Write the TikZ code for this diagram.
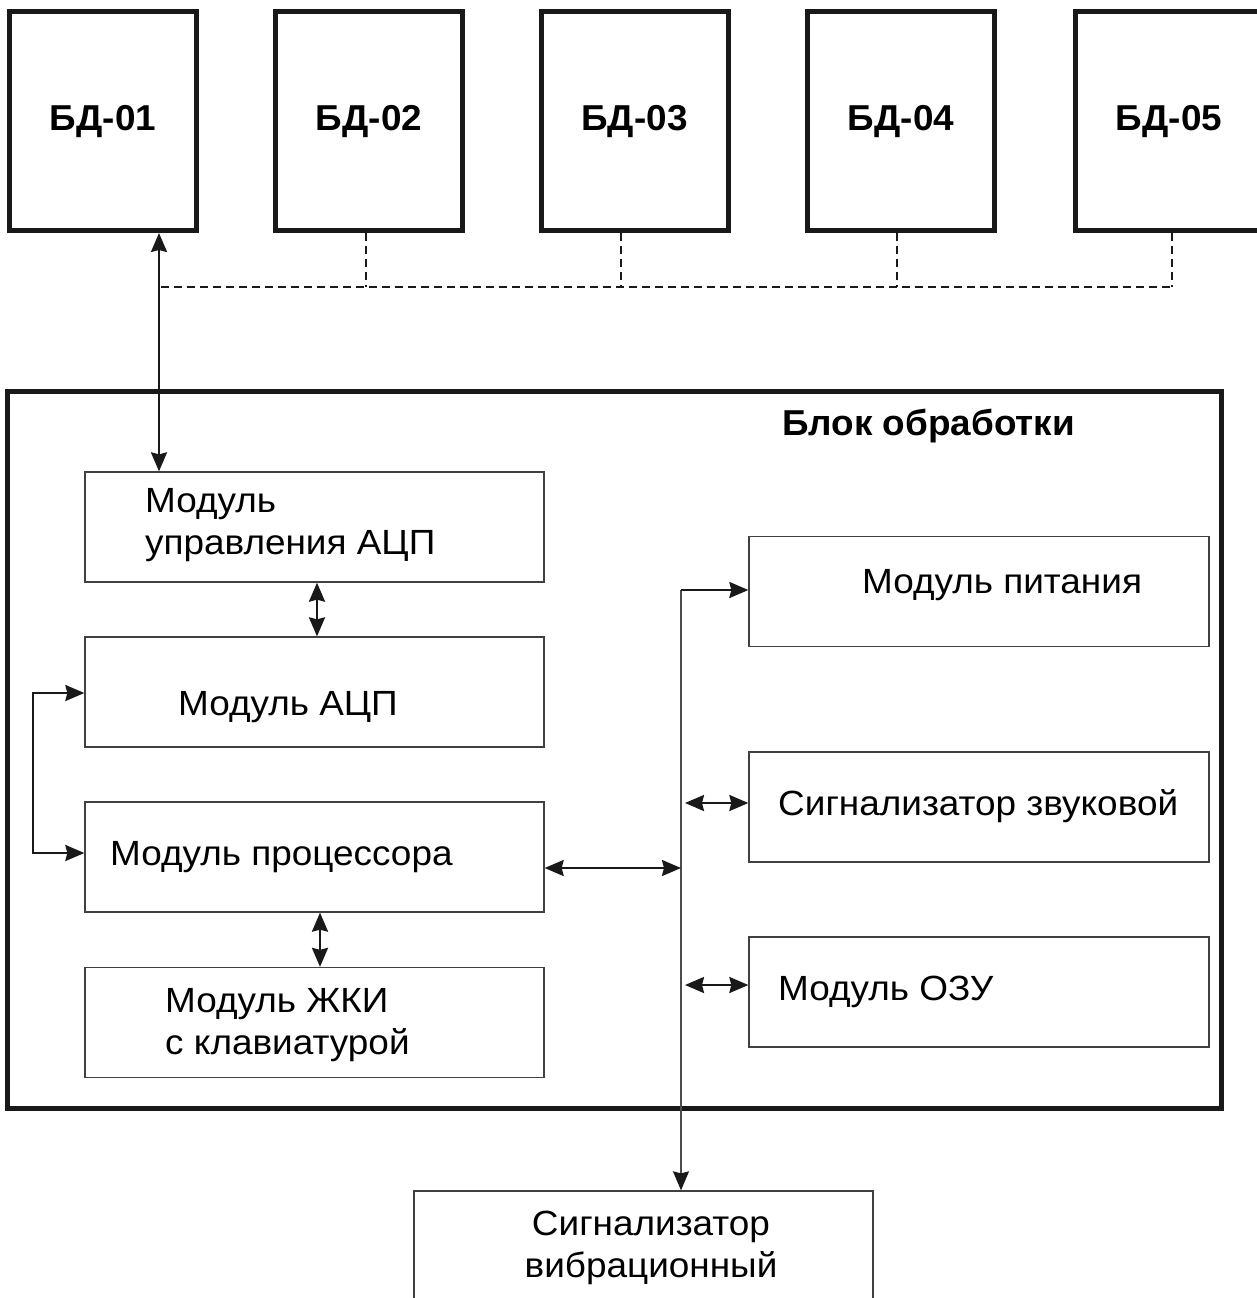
\documentclass[tikz,border=0pt]{standalone}
\usepackage{fontspec}
\setmainfont{Liberation Sans}
\newfontfamily\modfont[FakeStretch=1.055]{Liberation Sans}
\newfontfamily\bdfont[FakeStretch=1.025]{Liberation Sans}
\usetikzlibrary{arrows.meta}
\begin{document}
\begin{tikzpicture}[x=1pt,y=-1pt,
  dbbox/.style={draw=black!90, line width=5pt, fill=white, minimum width=187pt, minimum height=218.5pt, inner sep=0pt, font=\bdfont\fontsize{36}{42}\selectfont\bfseries},
  blockbox/.style={draw=black!90, line width=5pt, minimum width=1214pt, minimum height=717pt, inner sep=0pt},
  modbox/.style={draw=black!75, line width=1.3pt, minimum width=459pt, minimum height=110pt, inner sep=0pt},
  modtext/.style={anchor=base west, inner sep=0pt, font=\modfont\fontsize{35}{40}\selectfont},
  ctext/.style={anchor=base, inner sep=0pt, font=\modfont\fontsize{35}{40}\selectfont},
  titletext/.style={anchor=base west, inner sep=0pt, font=\bdfont\fontsize{36}{42}\selectfont\bfseries},
  tip/.tip={Stealth[length=19pt,width=16pt,inset=2pt]},
  conn/.style={line width=2.3pt, draw=black!90, tip-tip},
  connone/.style={line width=2.3pt, draw=black!90, -tip},
  busline/.style={line width=1.3pt, draw=black!70, -{Stealth[length=19pt,width=16pt,inset=2pt,black!90]}},
  dashline/.style={line width=1.8pt, draw=black!90, dash pattern=on 8pt off 5pt}
]
\useasboundingbox (0,0) rectangle (1256,1298);
\fill[white] (0,0) rectangle (1256,1298);

% top sensor blocks
\node[dbbox] (bd1) at (103,121.25) {БД-01};
\node[dbbox] (bd2) at (369,121.25) {БД-02};
\node[dbbox] (bd3) at (634.5,121.25) {БД-03};
\node[dbbox] (bd4) at (901,121.25) {БД-04};
\node[dbbox] (bd5) at (1169,121.25) {БД-05};

% dashed bus
\coordinate (dbusL) at (161,287);
\coordinate (dbusR) at (1172,287);
\draw[dashline] (dbusL) -- (dbusR);
\draw[dashline] (bd2.south -| 366,0) -- (dbusL -| 366,0);
\draw[dashline] (bd3.south -| 621,0) -- (dbusL -| 621,0);
\draw[dashline] (bd4.south -| 897,0) -- (dbusL -| 897,0);
\draw[dashline] (bd5.south -| 1172,0) -- (dbusR);

% processing block
\node[blockbox] (blk) at (614,749.5) {};
\node[titletext] (title) at (782,435) {Блок обработки};

% left modules
\node[modbox] (m1) at (314.5,527) {};
\node[modbox] (m2) at (314.5,692) {};
\node[modbox] (m3) at (314.5,857) {};
\node[modbox] (m4) at (314.5,1022.5) {};
\node[modtext] (t1a) at (145,512) {Модуль};
\node[modtext] (t1b) at (145,554) {управления АЦП};
\node[modtext] (t2) at (178,715) {Модуль АЦП};
\node[modtext] (t3) at (110,865) {Модуль процессора};
\node[modtext] (t4a) at (165,1012) {Модуль ЖКИ};
\node[modtext] (t4b) at (165,1054) {с клавиатурой};

% right modules
\node[modbox, minimum width=460pt] (r1) at (979,591.5) {};
\node[modbox, minimum width=460pt] (r2) at (979,807) {};
\node[modbox, minimum width=460pt] (r3) at (979,992) {};
\node[modtext] (tr1) at (862,593) {Модуль питания};
\node[modtext] (tr2) at (778,815) {Сигнализатор звуковой};
\node[modtext] (tr3) at (778,1000) {Модуль ОЗУ};

% vibration signaller (bottom cut off by page)
\node[modbox, minimum height=120pt] (vib) at (643.5,1251) {};
\node[ctext] (tva) at (651,1235) {Сигнализатор};
\node[ctext] (tvb) at (651,1277) {вибрационный};

% connectors
\draw[conn] (bd1.south -| 159,0) -- (m1.north -| 159,0);
\draw[conn] (m1.south -| 317,0) -- (m2.north -| 317,0);
\draw[conn] (m3.south -| 320,0) -- (m4.north -| 320,0);
\draw[conn] (m2.west |- 0,693) -- (33,693) -- (33,853) -- (m3.west |- 0,853);

\coordinate (bustop) at (681,590);
\draw[busline] (bustop) -- (vib.north -| bustop);
\draw[connone] (bustop) -- (r1.west |- bustop);
\draw[conn] (m3.east |- 0,868) -- (bustop |- 0,868);
\draw[conn] (685,803) -- (r2.west |- 0,803);
\draw[conn] (685,985) -- (r3.west |- 0,985);
\end{tikzpicture}
\end{document}
